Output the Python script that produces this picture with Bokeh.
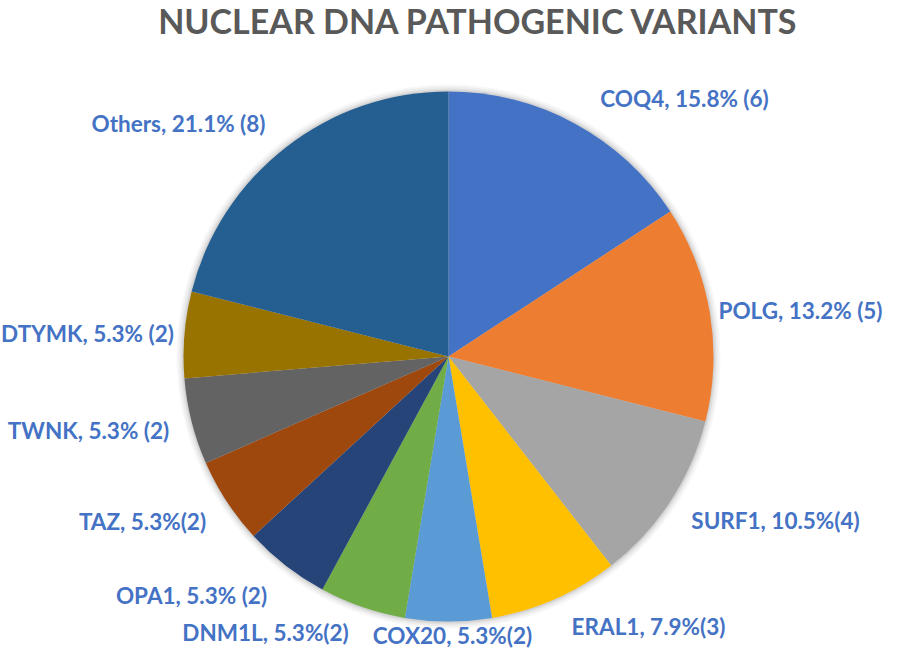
import math
from bokeh.plotting import figure
from bokeh.models import ColumnDataSource, Range1d
from bokeh.core.properties import value
from bokeh.embed import file_html
from bokeh.resources import INLINE

# ---- data ----
genes = ["COQ4", "POLG", "SURF1", "ERAL1", "COX20", "DNM1L", "OPA1", "TAZ", "TWNK", "DTYMK", "Others"]
counts = [6, 5, 4, 3, 2, 2, 2, 2, 2, 2, 8]
labels = ["COQ4, 15.8% (6)", "POLG, 13.2% (5)", "SURF1, 10.5%(4)", "ERAL1, 7.9%(3)",
          "COX20, 5.3%(2)", "DNM1L, 5.3%(2)", "OPA1, 5.3% (2)", "TAZ, 5.3%(2)",
          "TWNK, 5.3% (2)", "DTYMK, 5.3% (2)", "Others, 21.1% (8)"]
colors = ["#4472C4", "#ED7D31", "#A5A5A5", "#FFC000", "#5B9BD5", "#70AD47",
          "#264478", "#9E480E", "#636363", "#997300", "#255E91"]
title_text = "NUCLEAR DNA PATHOGENIC VARIANTS"

# ---- layout (pixel positions in the picture) ----
W, H = 882, 651
CX, CY, R = 448, 356, 265
label_px = [(684, 98), (800, 310), (775, 520), (648, 626), (452, 635), (265, 632),
            (191, 595), (142, 521), (88, 430), (87, 333), (178, 123)]

def dx(px):
    return px

def dy(py):
    return H - py

total = sum(counts)
starts, ends = [], []
cum = 0
for c in counts:
    a0 = math.pi / 2 - 2 * math.pi * cum / total
    cum += c
    a1 = math.pi / 2 - 2 * math.pi * cum / total
    starts.append(a0)
    ends.append(a1)

src = ColumnDataSource(dict(gene=genes, count=counts, start=starts, end=ends, color=colors))

p = figure(width=W, height=H, x_range=Range1d(0, W), y_range=Range1d(0, H),
           output_backend="svg", toolbar_location=None, min_border=0)
p.axis.visible = False
p.grid.visible = False
p.outline_line_color = None
p.background_fill_color = "white"

# soft shadow
for k, a in [(7, 0.03), (5, 0.04), (3, 0.05), (1.5, 0.06)]:
    p.circle(x=dx(CX), y=dy(CY), radius=R + k, fill_color="black", fill_alpha=a, line_color=None)

p.wedge(x=dx(CX), y=dy(CY), radius=R, start_angle="start", end_angle="end",
        direction="clock", fill_color="color", line_color=None, source=src)

lsrc = ColumnDataSource(dict(x=[dx(a) for a, b in label_px], y=[dy(b) for a, b in label_px], text=labels))
p.text(x="x", y="y", text="text", source=lsrc, text_align="center", text_baseline="middle",
       text_font=value("Lato"), text_font_style="bold", text_font_size="22.5px", text_color="#4472C4")

p.text(x=[dx(478)], y=[dy(20)], text=[title_text], text_align="center", text_baseline="middle",
       text_font=value("Lato"), text_font_style="bold", text_font_size="34px", text_color="#595959")

open("out.html", "w").write(file_html(p, INLINE))
